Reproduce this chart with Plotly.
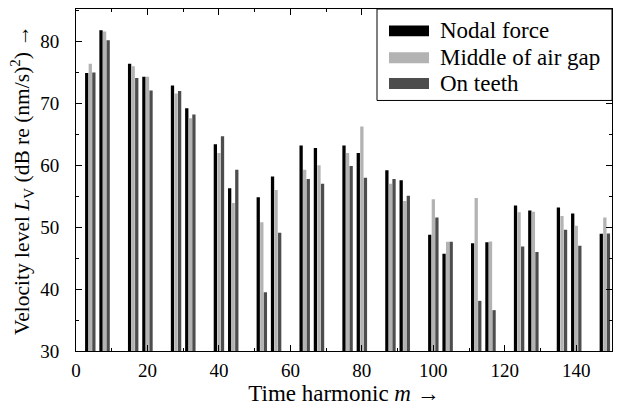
import plotly.graph_objects as go

harmonics = [4, 8, 16, 20, 28, 32, 40, 44, 52, 56, 64, 68, 76, 80, 88, 92,
             100, 104, 112, 116, 124, 128, 136, 140, 148]
nodal_force = [74.9, 81.8, 76.4, 74.3, 72.9, 69.2, 63.4, 56.3, 54.85, 58.2, 63.2, 62.8,
               63.2, 62.0, 59.2, 57.6, 48.8, 45.7, 47.4, 47.55, 53.5, 52.7, 53.2, 52.2, 48.95]
middle_air_gap = [76.4, 81.6, 76.0, 74.3, 71.6, 67.6, 62.0, 53.9, 50.8, 56.0, 59.3, 60.0,
                  62.0, 66.25, 57.0, 54.25, 54.5, 47.65, 54.7, 47.7, 52.4, 52.5, 51.8, 50.25, 51.55]
on_teeth = [75.0, 80.2, 74.1, 72.1, 72.0, 68.2, 64.7, 59.3, 39.5, 49.1, 57.8, 57.0,
            59.9, 58.0, 57.8, 55.1, 51.55, 47.65, 38.1, 36.6, 46.9, 46.0, 49.6, 47.0, 49.0]

series_names = ["Nodal force", "Middle of air gap", "On teeth"]
series_values = [nodal_force, middle_air_gap, on_teeth]
series_colors = ["#000000", "#b3b3b3", "#4d4d4d"]
series_shift = [-1, 0, 1]

FONT = "Liberation Serif"

fig = go.Figure()
for name, vals, color, shift in zip(series_names, series_values, series_colors, series_shift):
    fig.add_trace(go.Bar(
        x=[m + shift for m in harmonics],
        y=vals,
        width=0.92,
        name=name,
        showlegend=False,
        marker=dict(color=color, line=dict(width=0)),
    ))

# Legend box drawn in paper coordinates (plot area: 76..612 px, 8..352 px)
W, H = 536.0, 344.0
def px(x):
    return (x - 76) / W
def py(y):
    return (352 - y) / H

fig.add_shape(type="rect", xref="paper", yref="paper",
              x0=px(377), x1=1.0, y0=py(100), y1=1.0,
              line=dict(color="black", width=1), fillcolor="white", layer="above")
legend_y = [30, 57, 83]
for name, color, yc in zip(series_names, series_colors, legend_y):
    fig.add_shape(type="rect", xref="paper", yref="paper",
                  x0=px(389), x1=px(429), y0=py(yc + 5.5), y1=py(yc - 5.5),
                  line=dict(width=0), fillcolor=color, layer="above")
    fig.add_annotation(xref="paper", yref="paper", x=px(438), y=py(yc),
                       xanchor="left", yanchor="middle", showarrow=False,
                       text=name, font=dict(family=FONT, size=23, color="black"))

axis_common = dict(
    showgrid=False, zeroline=False, showline=True, linecolor="black", linewidth=1,
    mirror="allticks", ticks="inside", tickcolor="black", ticklen=6,
    tickfont=dict(family=FONT, size=19, color="black"),
)

fig.update_layout(
    width=621, height=409,
    margin=dict(l=76, r=9, t=8, b=57),
    paper_bgcolor="white", plot_bgcolor="white",
    barmode="overlay",
    showlegend=False,
    font=dict(family=FONT, color="black", size=19),
    xaxis=dict(
        range=[0, 150], dtick=20, tick0=0,
        minor=dict(ticks="inside", dtick=10, ticklen=3, tickcolor="black"),
        title=dict(text="Time harmonic <i>m</i> →", font=dict(family=FONT, size=23), standoff=4),
        ticklabelstandoff=2,
        **axis_common,
    ),
    yaxis=dict(
        range=[30, 85.25], dtick=10, tick0=30,
        minor=dict(ticks="inside", dtick=5, ticklen=3, tickcolor="black"),
        title=dict(text="Velocity level <i>L</i><sub>V</sub> (dB re (nm/s)<sup>2</sup>) →",
                   font=dict(family=FONT, size=21.5), standoff=4),
        ticklabelstandoff=12,
        **axis_common,
    ),
)

fig.write_html("out.html")
